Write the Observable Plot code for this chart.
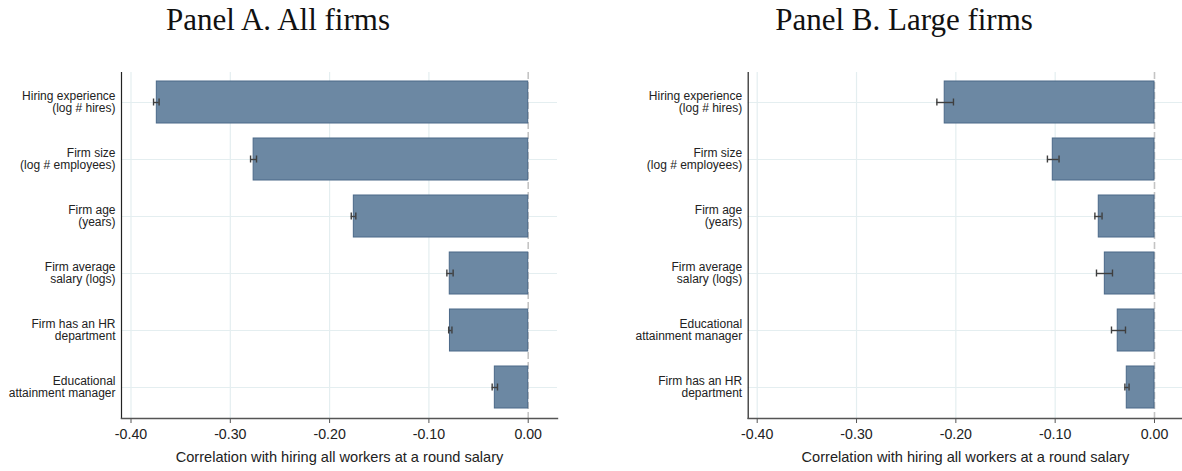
<!DOCTYPE html>
<html><head><meta charset="utf-8">
<script src="https://cdn.jsdelivr.net/npm/d3@7"></script>
<script src="https://cdn.jsdelivr.net/npm/@observablehq/plot@0.6"></script>
<style>
body{margin:0;background:#fff;}
#wrap{position:relative;width:1182px;height:471px;overflow:hidden;background:#fff;}
.title{position:absolute;top:4px;font-family:"Liberation Serif","DejaVu Serif",serif;font-size:31px;line-height:31px;color:#111;white-space:nowrap;transform:translateX(-50%);}
.panel{position:absolute;top:50px;}
</style></head><body>
<div id="wrap">
<div class="title" style="left:278px">Panel A. All firms</div>
<div class="title" style="left:904px">Panel B. Large firms</div>
<div class="panel" id="pa" style="left:0px"></div>
<div class="panel" id="pb" style="left:620px"></div>
</div>
<script>
// ---- Data ----
const categoriesA = [
  "Hiring experience\n(log # hires)",
  "Firm size\n(log # employees)",
  "Firm age\n(years)",
  "Firm average\nsalary (logs)",
  "Firm has an HR\ndepartment",
  "Educational\nattainment manager"
];
const valuesA = [-0.374, -0.2765, -0.1756, -0.0790, -0.0788, -0.0336];
const lowerA  = [-0.3773, -0.2796, -0.1782, -0.0819, -0.0801, -0.0363];
const upperA  = [-0.3717, -0.2736, -0.1736, -0.0756, -0.0768, -0.0309];

const categoriesB = [
  "Hiring experience\n(log # hires)",
  "Firm size\n(log # employees)",
  "Firm age\n(years)",
  "Firm average\nsalary (logs)",
  "Educational\nattainment manager",
  "Firm has an HR\ndepartment"
];
const valuesB = [-0.2112, -0.1024, -0.0561, -0.0500, -0.0370, -0.0279];
const lowerB  = [-0.2191, -0.1078, -0.0600, -0.0584, -0.0433, -0.0298];
const upperB  = [-0.2024, -0.0961, -0.0528, -0.0423, -0.0292, -0.0256];

const tickValues = [-0.4, -0.3, -0.2, -0.1, 0];
const tickLabels = ["-0.40", "-0.30", "-0.20", "-0.10", "0.00"];
const xLabel = "Correlation with hiring all workers at a round salary";

// ---- Chart ----
function panel(cats, vals, lo, hi, o) {
  const data = cats.map((c, i) => ({label: c, value: vals[i], lo: lo[i], hi: hi[i]}));
  const sans = "'Liberation Sans', Arial, Helvetica, sans-serif";
  return Plot.plot({
    width: o.width, height: 421,
    marginLeft: o.ml, marginRight: o.mr, marginTop: 22, marginBottom: 53,
    style: {fontFamily: sans, background: "#fff", color: "#222"},
    x: {domain: o.xdomain},
    y: {domain: cats, paddingInner: 0.26, paddingOuter: 0.165},
    marks: [
      Plot.gridX(tickValues.filter(d => d !== 0), {stroke: "#e4eef0", strokeOpacity: 1, strokeWidth: 1.2}),
      Plot.gridY(cats, {stroke: "#e4eef0", strokeOpacity: 1, strokeWidth: 1.2}),
      Plot.ruleX([0], {stroke: "#c4c4c4", strokeWidth: 1.6, strokeDasharray: "7,3"}),
      Plot.barX(data, {x: "value", y: "label", fill: "#6c88a3", stroke: "#4a6888", strokeWidth: 1}),
      Plot.ruleY(data, {x1: "lo", x2: "hi", y: "label", stroke: "#3f3f3f", strokeWidth: 1.4}),
      Plot.tickX(data, {x: "lo", y: "label", insetTop: 17.5, insetBottom: 17.5, stroke: "#3f3f3f", strokeWidth: 1.4}),
      Plot.tickX(data, {x: "hi", y: "label", insetTop: 17.5, insetBottom: 17.5, stroke: "#3f3f3f", strokeWidth: 1.4}),
      Plot.frame({anchor: "left", stroke: "#222", strokeWidth: 1.2}),
      Plot.frame({anchor: "bottom", stroke: "#555", strokeWidth: 1.4}),
      Plot.axisY({tickSize: 0, tickPadding: 6, fontSize: 12, lineHeight: 1.0, label: null, fill: "#222"}),
      Plot.axisX({ticks: tickValues, tickFormat: d => tickLabels[tickValues.indexOf(d)],
                  tickSize: 5, tickPadding: 5, fontSize: 14.2, label: null, stroke: "#555", fill: "#222"}),
      Plot.text([xLabel], {frameAnchor: "bottom", dy: 33, lineAnchor: "top", fontSize: 14.6, fill: "#222"})
    ]
  });
}

document.getElementById("pa").append(panel(categoriesA, valuesA, lowerA, upperA,
  {width: 560, ml: 121, mr: 3, xdomain: [-0.40957, 0.0295]}));
document.getElementById("pb").append(panel(categoriesB, valuesB, lowerB, upperB,
  {width: 562, ml: 127.7, mr: 0, xdomain: [-0.40906, 0.0282]}));
</script>
</body></html>
